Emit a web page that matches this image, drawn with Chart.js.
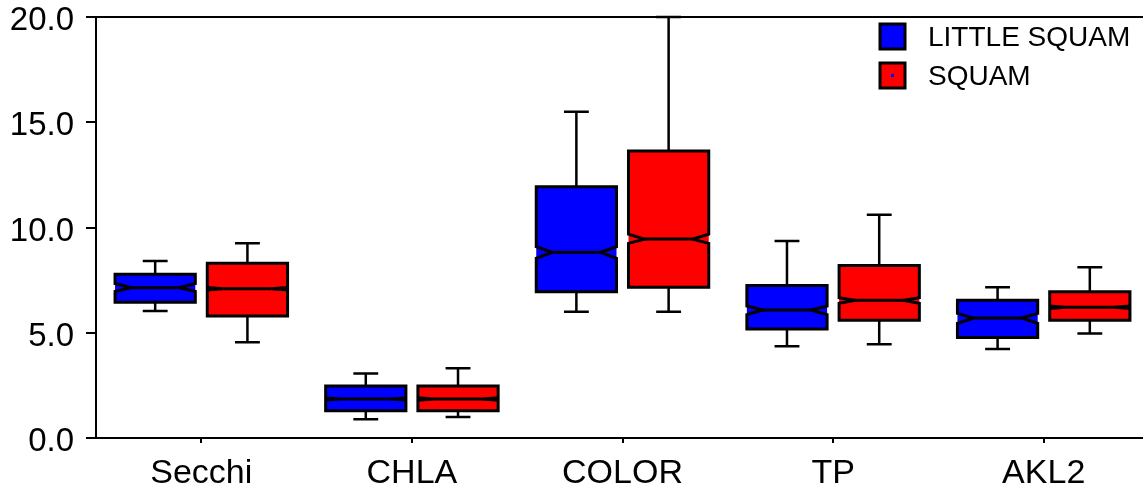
<!DOCTYPE html>
<html>
<head>
<meta charset="utf-8">
<script src="https://cdn.jsdelivr.net/npm/chart.js@4.4.1/dist/chart.umd.min.js"></script>
<style>
  html, body { margin: 0; padding: 0; background: #fff; overflow: hidden; }
  #wrap { width: 1150px; height: 491px; }
</style>
</head>
<body>
<div id="wrap"><canvas id="boxChart"></canvas></div>
<script>
// Data
const categories = ["Secchi", "CHLA", "COLOR", "TP", "AKL2"];
const seriesNames = ["LITTLE SQUAM", "SQUAM"];
const seriesColors = ["#0000ff", "#ff0000"];
const yTicks = [0, 5, 10, 15, 20];

// LITTLE SQUAM
const lsWhiskLo = [6.03, 0.89, 6.00, 4.36, 4.23];
const lsQ1      = [6.45, 1.30, 6.95, 5.18, 4.77];
const lsNotchLo = [6.96, 1.80, 8.54, 5.86, 5.45];
const lsMedian  = [7.14, 1.85, 8.82, 6.08, 5.70];
const lsNotchHi = [7.34, 1.90, 9.09, 6.27, 5.92];
const lsQ3      = [7.78, 2.47, 11.94, 7.25, 6.54];
const lsWhiskHi = [8.41, 3.07, 15.50, 9.36, 7.16];

// SQUAM
const sqWhiskLo = [4.55, 1.00, 6.00, 4.45, 4.96];
const sqQ1      = [5.80, 1.30, 7.16, 5.59, 5.59];
const sqNotchLo = [7.03, 1.79, 9.25, 6.40, 6.15];
const sqMedian  = [7.09, 1.85, 9.45, 6.54, 6.21];
const sqNotchHi = [7.15, 1.91, 9.68, 6.66, 6.27];
const sqQ3      = [8.30, 2.47, 13.63, 8.19, 6.95];
const sqWhiskHi = [9.25, 3.31, 20.00, 10.61, 8.11];

const stats = [
  { lo: lsWhiskLo, q1: lsQ1, nlo: lsNotchLo, med: lsMedian, nhi: lsNotchHi, q3: lsQ3, hi: lsWhiskHi },
  { lo: sqWhiskLo, q1: sqQ1, nlo: sqNotchLo, med: sqMedian, nhi: sqNotchHi, q3: sqQ3, hi: sqWhiskHi }
];

const FONT = "'Liberation Sans', Arial, sans-serif";

// draws notched boxes on top of the (invisible) floating bars
const notchedBoxes = {
  id: "notchedBoxes",
  afterDatasetsDraw(chart) {
    const ctx = chart.ctx;
    const y = chart.scales.y;
    chart.data.datasets.forEach((ds, di) => {
      const s = stats[di];
      chart.getDatasetMeta(di).data.forEach((bar, i) => {
        const x = bar.x, w = bar.width;
        const L = x - w / 2, R = x + w / 2;
        const inset = w * 0.2;
        const capW = w * 0.31;
        const pLo = y.getPixelForValue(s.lo[i]);
        const pHi = y.getPixelForValue(s.hi[i]);
        const pQ1 = y.getPixelForValue(s.q1[i]);
        const pQ3 = y.getPixelForValue(s.q3[i]);
        const pMed = y.getPixelForValue(s.med[i]);
        const pNlo = Math.min(y.getPixelForValue(s.nlo[i]), pQ1);
        const pNhi = Math.max(y.getPixelForValue(s.nhi[i]), pQ3);

        ctx.save();
        ctx.strokeStyle = "#000";
        ctx.lineWidth = 2.5;
        // whiskers
        ctx.beginPath();
        ctx.moveTo(x, pQ3); ctx.lineTo(x, pHi);
        ctx.moveTo(x - capW / 2, pHi); ctx.lineTo(x + capW / 2, pHi);
        ctx.moveTo(x, pQ1); ctx.lineTo(x, pLo);
        ctx.moveTo(x - capW / 2, pLo); ctx.lineTo(x + capW / 2, pLo);
        ctx.stroke();

        // notched box
        ctx.beginPath();
        ctx.moveTo(L, pQ3);
        ctx.lineTo(R, pQ3);
        ctx.lineTo(R, pNhi);
        ctx.lineTo(R - inset, pMed);
        ctx.lineTo(R, pNlo);
        ctx.lineTo(R, pQ1);
        ctx.lineTo(L, pQ1);
        ctx.lineTo(L, pNlo);
        ctx.lineTo(L + inset, pMed);
        ctx.lineTo(L, pNhi);
        ctx.closePath();
        ctx.fillStyle = ds.backgroundColor;
        ctx.fill();
        ctx.lineWidth = 3;
        ctx.lineJoin = "miter";
        ctx.stroke();

        // median
        ctx.lineWidth = 3;
        ctx.beginPath();
        ctx.moveTo(L + inset, pMed);
        ctx.lineTo(R - inset, pMed);
        ctx.stroke();
        ctx.restore();
      });
    });

    // top frame line
    const a = chart.chartArea;
    ctx.save();
    ctx.strokeStyle = "#000";
    ctx.lineWidth = 2;
    ctx.beginPath();
    ctx.moveTo(a.left, a.top);
    ctx.lineTo(chart.width, a.top);
    ctx.stroke();

    // legend
    ctx.font = "28px " + FONT;
    ctx.textBaseline = "middle";
    seriesNames.forEach((name, k) => {
      const bx = 880, by = 24 + k * 39;
      ctx.fillStyle = seriesColors[k];
      ctx.fillRect(bx, by, 25, 25);
      ctx.lineWidth = 3;
      ctx.strokeStyle = "#000";
      ctx.strokeRect(bx, by, 25, 25);
      if (k === 1) {
        ctx.fillStyle = "#0000ff";
        ctx.fillRect(bx + 11, by + 11, 3, 3);
      }
      ctx.fillStyle = "#000";
      ctx.fillText(name, 928, by + 14);
    });
    ctx.restore();
  }
};

new Chart(document.getElementById("boxChart"), {
  type: "bar",
  data: {
    labels: categories,
    datasets: seriesNames.map((name, k) => ({
      label: name,
      data: stats[k].q1.map((q, i) => [q, stats[k].q3[i]]),
      backgroundColor: seriesColors[k],
      borderWidth: 0,
      categoryPercentage: 0.876,
      barPercentage: 0.87
    }))
  },
  options: {
    responsive: true,
    maintainAspectRatio: false,
    animation: false,
    events: [],
    layout: { padding: { top: 17, left: 4, right: 1, bottom: 0 } },
    plugins: {
      legend: { display: false },
      tooltip: { enabled: false }
    },
    scales: {
      x: {
        grid: { display: true, drawOnChartArea: false, drawTicks: true, tickLength: 5, color: "#000", lineWidth: 2, offset: false },
        border: { color: "#000", width: 2 },
        ticks: { color: "#000", font: { family: FONT, size: 34 }, padding: 10, maxRotation: 0 },
        afterFit: (s) => { s.height = 53; s.paddingLeft = 0; s.paddingRight = 0; }
      },
      y: {
        min: 0,
        max: 20,
        afterBuildTicks: (s) => { s.ticks = yTicks.map(v => ({ value: v })); },
        grid: { display: true, drawOnChartArea: false, drawTicks: true, tickLength: 10, color: "#000", lineWidth: 2 },
        border: { color: "#000", width: 2 },
        ticks: {
          color: "#000",
          font: { family: FONT, size: 33 },
          padding: 12,
          labelOffset: 4,
          callback: (v) => Number(v).toFixed(1)
        },
        afterFit: (s) => { s.width = 92; s.paddingTop = 0; s.paddingBottom = 0; }
      }
    }
  },
  plugins: [notchedBoxes]
});
</script>
</body>
</html>
